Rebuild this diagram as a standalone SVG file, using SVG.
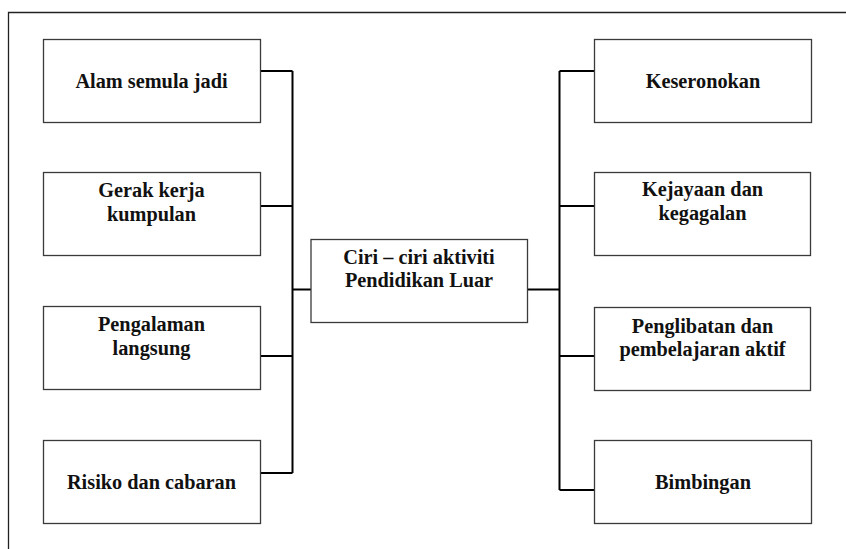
<svg xmlns="http://www.w3.org/2000/svg" width="846" height="549" viewBox="0 0 846 549">
<style>
.box{fill:#fff;stroke:#3a3a3a;stroke-width:1.3}
.t{font-family:'Liberation Serif','Tinos','Times New Roman','DejaVu Serif',serif;font-weight:700;font-size:20.3px;fill:#111;text-anchor:middle}
.c{fill:none;stroke:#000;stroke-width:2}
.frame{fill:none;stroke:#222;stroke-width:1.3}
</style>
<rect width="846" height="549" fill="#fff"/>
<path class="frame" d="M8.5,549 V12.5 H846"/>
<g id="connectors">
<path class="c" d="M292.5,71 V473 M260,71 H292.5 M260,206 H292.5 M292.5,289.5 H311 M260,356 H292.5 M260,473 H292.5"/>
<path class="c" d="M559.5,71 V490 M527,289.5 H559.5 M559.5,71 H594 M559.5,206 H594 M559.5,356 H594 M559.5,490 H594"/>
</g>
<g id="n1"><rect class="box" x="43.5" y="39.5" width="217" height="83"/><text class="t" x="151.5" y="87.5">Alam semula jadi</text></g>
<g id="n2"><rect class="box" x="43.5" y="172.5" width="217" height="83"/><text class="t" x="151.5" y="197">Gerak kerja</text><text class="t" x="151.5" y="220.5">kumpulan</text></g>
<g id="n3"><rect class="box" x="43.5" y="306.5" width="217" height="83"/><text class="t" x="151.5" y="331">Pengalaman</text><text class="t" x="151.5" y="354.5">langsung</text></g>
<g id="n4"><rect class="box" x="43.5" y="440.5" width="217" height="83"/><text class="t" x="151.5" y="489">Risiko dan cabaran</text></g>
<g id="center"><rect class="box" x="311" y="239.5" width="216.5" height="83"/><text class="t" x="419" y="263.5">Ciri – ciri aktiviti</text><text class="t" x="419" y="287">Pendidikan Luar</text></g>
<g id="n5"><rect class="box" x="594.5" y="39.5" width="217" height="83"/><text class="t" x="703" y="87.5">Keseronokan</text></g>
<g id="n6"><rect class="box" x="594.5" y="172.5" width="216" height="83"/><text class="t" x="702.5" y="196">Kejayaan dan</text><text class="t" x="702.5" y="220">kegagalan</text></g>
<g id="n7"><rect class="box" x="594.5" y="307.5" width="216" height="83"/><text class="t" x="702.5" y="332.5">Penglibatan dan</text><text class="t" x="702.5" y="356">pembelajaran aktif</text></g>
<g id="n8"><rect class="box" x="594.5" y="440.5" width="217" height="83"/><text class="t" x="703" y="488.5">Bimbingan</text></g>
</svg>
